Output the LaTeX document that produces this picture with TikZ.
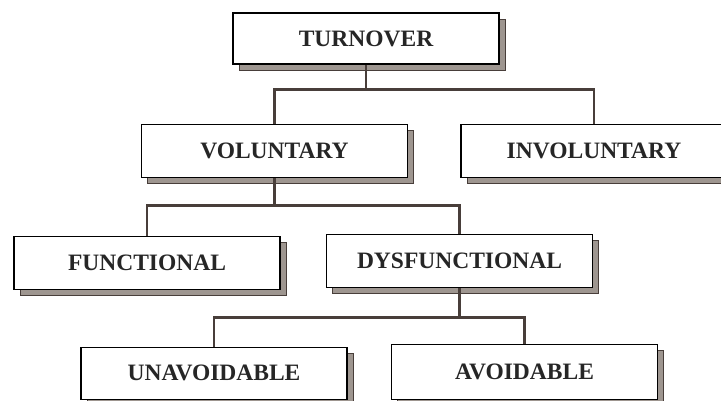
\documentclass[tikz,border=0pt]{standalone}
\usepackage{fontspec}
\setmainfont{Liberation Serif}
\usepackage{xcolor}
\usetikzlibrary{positioning,calc,shadows}

\definecolor{linkbrown}{RGB}{72,62,58}
\definecolor{shadowgray}{RGB}{158,150,144}

\begin{document}
\begin{tikzpicture}[
    x=1pt, y=1pt,
    node distance=57pt,
    every node/.style={font=\fontsize{23.5}{27}\selectfont\bfseries, text=black!85},
    box/.style={rectangle, draw=black, line width=1.1pt, fill=white, minimum width=266pt, minimum height=53pt, align=center,
        general shadow={shadow xshift=6pt, shadow yshift=-6pt, fill=shadowgray, draw=linkbrown, line width=1pt}},
    link/.style={draw=linkbrown, line width=2.8pt}
]
    \useasboundingbox (0,0) rectangle (721,-400);
    \fill[white] (0,0) rectangle (721,-400);
    \clip (0,0) rectangle (721,-400);

    \node[box, minimum height=51pt] (turnover) at (366,-38.5) {TURNOVER};
    \node[box, below=59pt of turnover, xshift=-91.5pt] (voluntary) {VOLUNTARY};
    \node[box, below=59pt of turnover, xshift=228pt] (involuntary) {INVOLUNTARY};

    \node[box, below=58pt of voluntary, xshift=-127.5pt] (functional) {FUNCTIONAL};
    \node[box, below=56pt of voluntary, xshift=185pt] (dysfunctional) {DYSFUNCTIONAL};

    \node[box, below=59pt of dysfunctional, xshift=-245.5pt, minimum height=52pt] (unavoidable) {UNAVOIDABLE};
    \node[box, below=56pt of dysfunctional, xshift=65pt, minimum height=55pt] (avoidable) {AVOIDABLE};

    \coordinate[below=25pt of turnover.south] (split top);
    \coordinate[below=28pt of voluntary.south] (split mid);
    \coordinate[below=30pt of dysfunctional.south] (split low);

    \draw[link] (turnover.south) -- (split top) -| (voluntary.north);
    \draw[link] (split top) -| (involuntary.north);
    \draw[link] (voluntary.south) -- (split mid) -| (functional.north);
    \draw[link] (split mid) -| (dysfunctional.north);
    \draw[link] (dysfunctional.south) -- (split low) -| (unavoidable.north);
    \draw[link] (split low) -| (avoidable.north);
\end{tikzpicture}
\end{document}
